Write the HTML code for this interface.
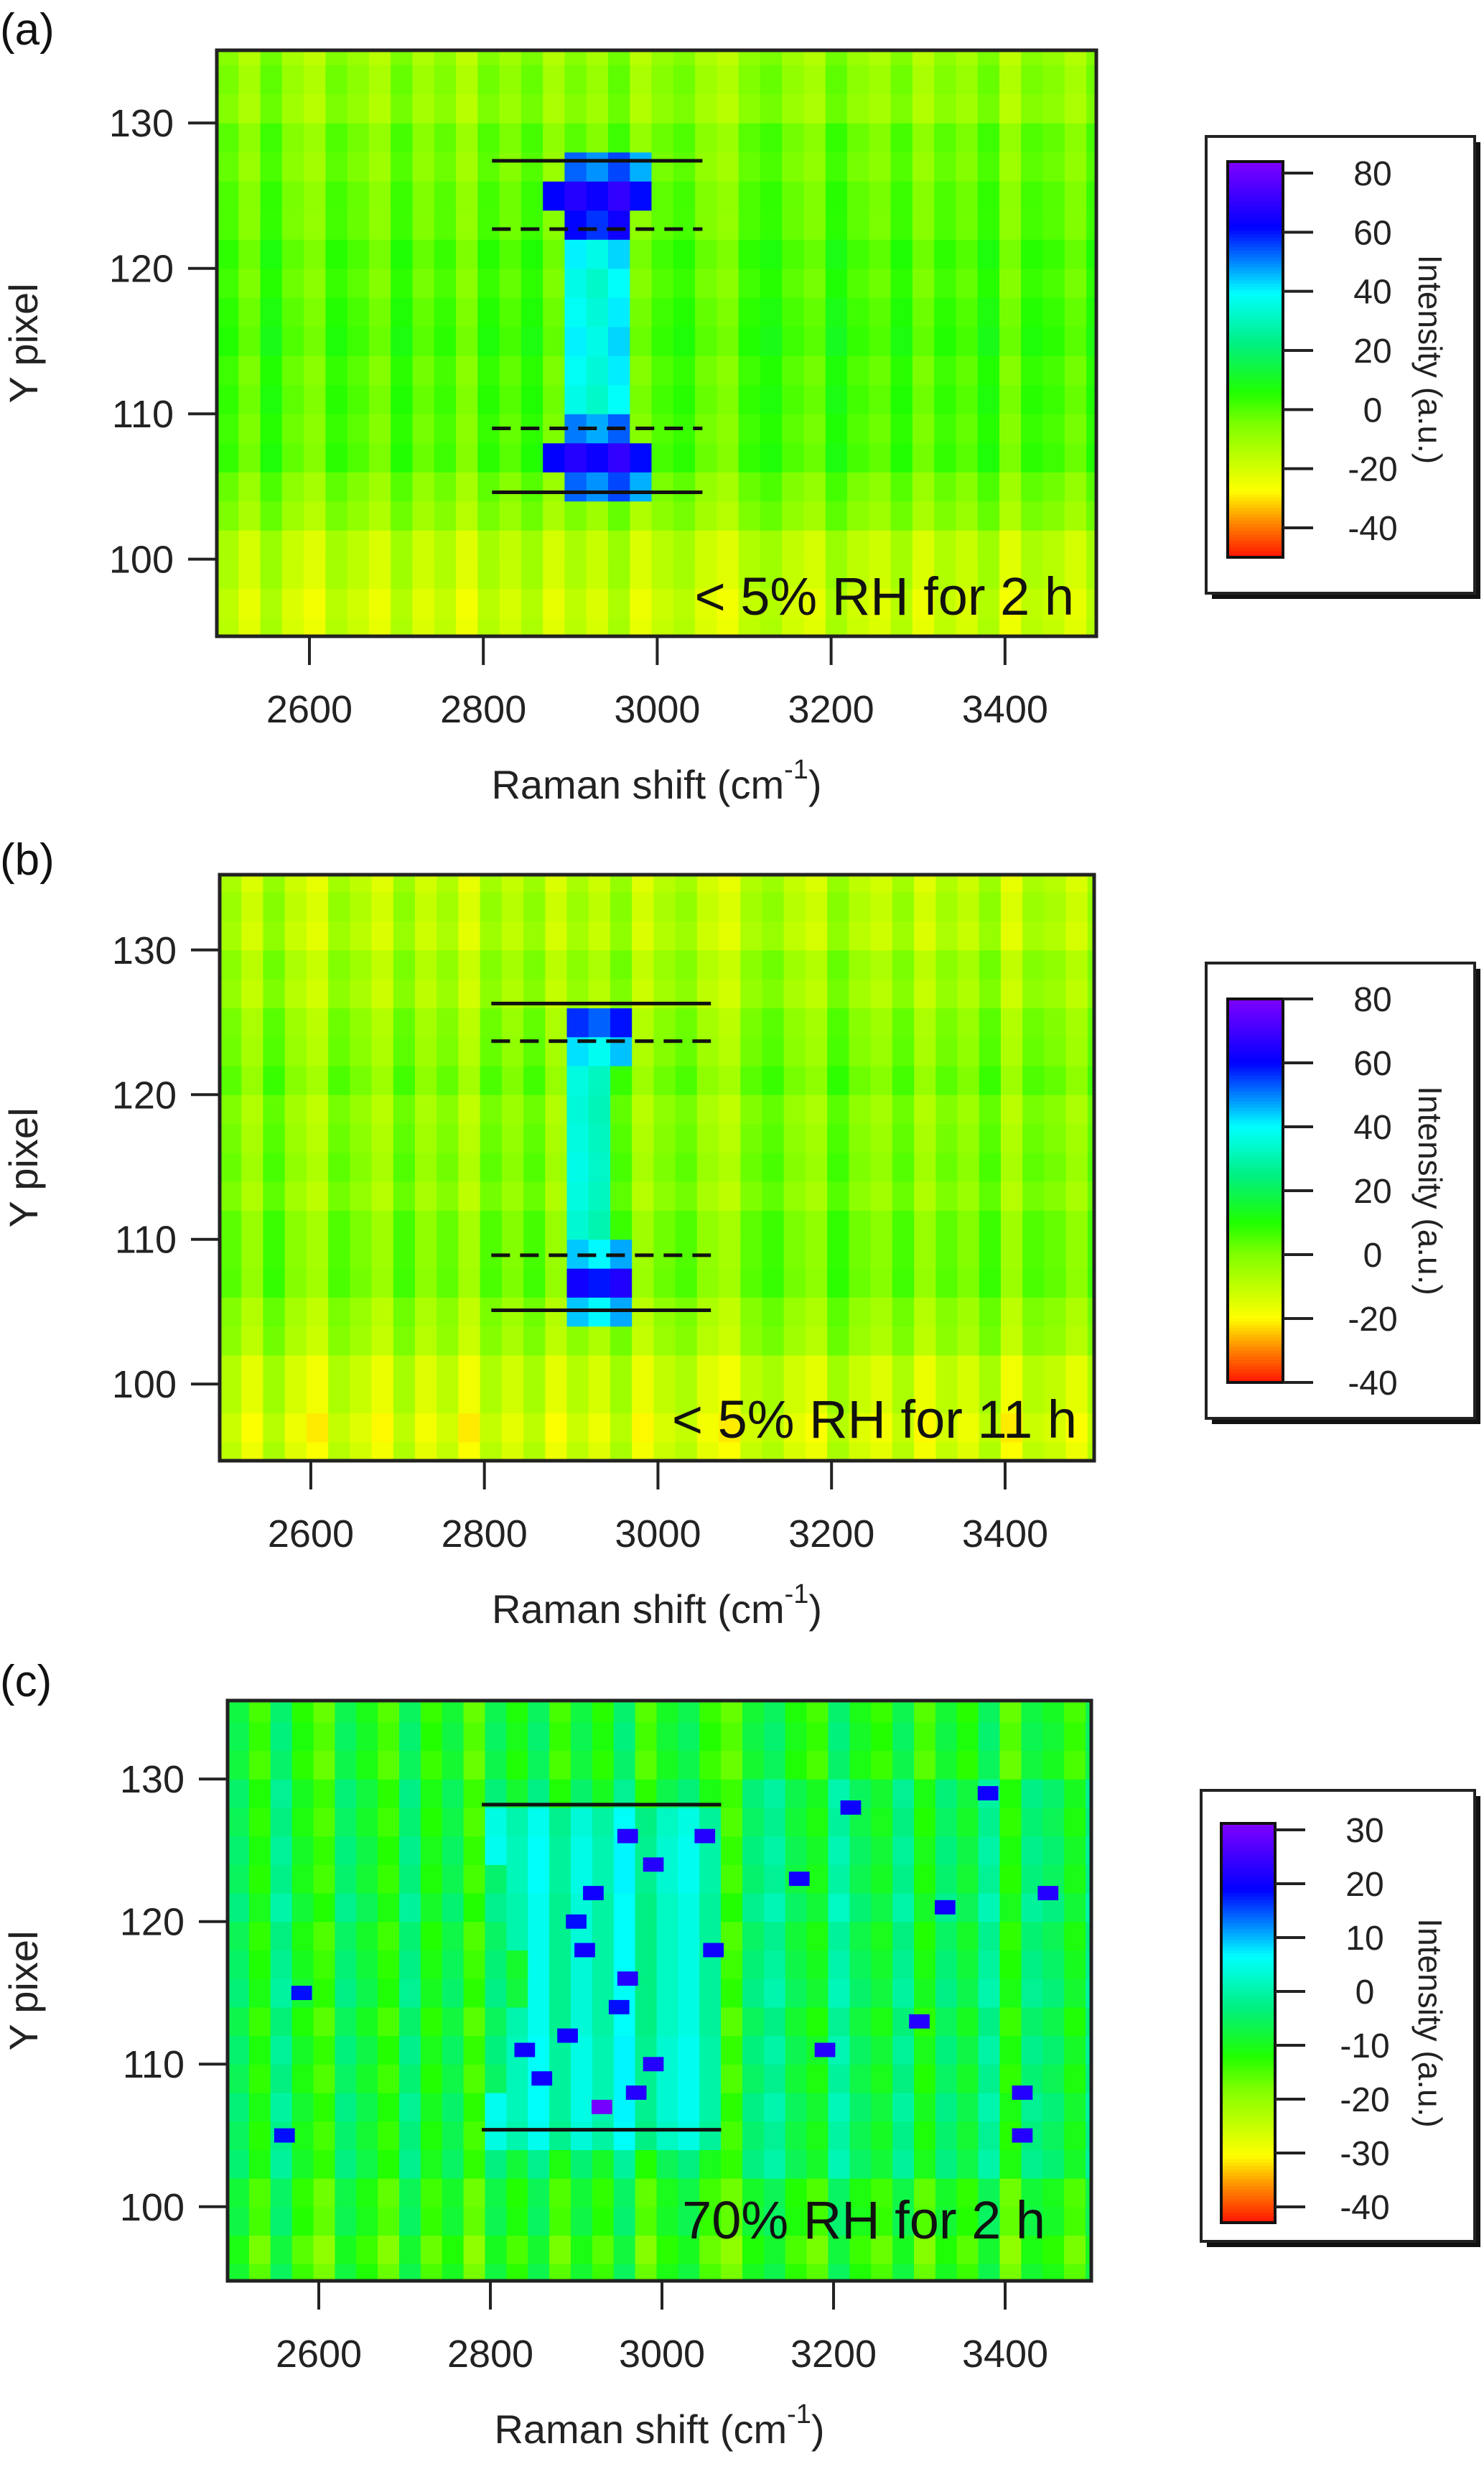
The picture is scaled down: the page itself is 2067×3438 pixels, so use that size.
<!DOCTYPE html>
<html><head><meta charset="utf-8">
<style>
html,body{margin:0;padding:0;background:#fff;}
svg{display:block;font-family:"Liberation Sans",Arial,sans-serif;}
</style></head>
<body>
<svg id="fig" width="2067" height="3438" viewBox="0 0 2067 3438" xmlns="http://www.w3.org/2000/svg"></svg>
<script>
// ---------- shared data ----------
const xTicks = [2600, 2800, 3000, 3200, 3400];
const yTicks = [100, 110, 120, 130];
const yRows = [95,97,99,101,103,105,107,109,111,113,115,117,119,121,123,125,127,129,131,133,135];
const colShift = [3,-4,6,-2,-6,4,0,-5,5,-3,2,-6,4,-1,5,-4,3,-2,6,-5,1,4,-3,-6,2,5,-1,-4,6,0,-3,4,-5,2,-2,5,-6,3,1,-4,4];
const rowShift = [2,-3,1,-2,3,-1,2,-2,1,-3,2,0,-2,3,-1,1,-2,2,-3,1,-1];

// ---------- panel (a) ----------
const bgA = [-15,-13,-12,-10,-6,-1,3,4,4,5,5,5,4,3,2,1,0,-1,-3,-4,-5];
const featA = [null,null,null,null,null,52,66,50,36,38,40,38,36,40,60,66,52,null,null,null,null];
const featLoA = [0,0,0,0,0,2885,2880,2895,2905,2905,2905,2905,2905,2905,2890,2880,2885,0,0,0,0];
const featHiA = [0,0,0,0,0,2985,2990,2975,2960,2960,2960,2960,2960,2960,2980,2990,2985,0,0,0,0];
const cbTicksA = [-40,-20,0,20,40,60,80];
const solidLinesA = [127.4, 104.6];
const dashLinesA = [122.7, 109.0];
const lineSpanA = [2810, 3052];

// ---------- panel (b) ----------
const bgB = [-14,-13,-12,-10,-7,-3,0,2,0,-1,-2,-2,-2,-1,-1,-3,-5,-6,-7,-8,-9];
const featB = [null,null,null,null,null,42,60,42,32,34,35,34,33,34,40,54,null,null,null,null,null];
const featLoB = [0,0,0,0,0,2895,2890,2900,2905,2905,2905,2905,2905,2905,2900,2895,0,0,0,0,0];
const featHiB = [0,0,0,0,0,2970,2975,2965,2955,2955,2955,2955,2955,2955,2960,2970,0,0,0,0,0];
const cbTicksB = [-40,-20,0,20,40,60,80];
const solidLinesB = [126.3, 105.1];
const dashLinesB = [123.7, 108.9];
const lineSpanB = [2808, 3061];

// ---------- panel (c) ----------
const bgC = [-13,-12,-11,-10,-9,-8,-8,-8,-8,-8,-8,-8,-8,-8,-8,-8,-8,-9,-9,-10,-10];
const featC = [null,null,null,null,null,1,2,2,2,1,1,1,1,1,2,2,1,null,null,null,null];
const featLoC = [0,0,0,0,0,2800,2800,2810,2820,2830,2840,2840,2830,2820,2810,2800,2800,0,0,0,0];
const featHiC = [0,0,0,0,0,3080,3080,3080,3070,3070,3070,3070,3070,3080,3080,3080,3080,0,0,0,0];
const dotXC = [2960,2990,2920,3050,2910,2960,2890,2930,2970,2860,2840,2990,3190,3420,3450,3330,3300,3060,3160,3420,2580,2560,3380,3220,2900,2950];
const dotYC = [126,124,122,126,118,116,112,107,108,109,111,110,111,108,122,121,113,118,123,105,115,105,129,128,120,114];
const dotVC = [22,22,20,22,20,22,20,30,22,20,20,22,22,22,22,20,22,20,20,22,18,18,20,20,18,18];
const cbTicksC = [-40,-30,-20,-10,0,10,20,30];
const solidLinesC = [128.2, 105.4];
const dashLinesC = [];
const lineSpanC = [2790, 3069];

// ---------- colormap ----------
const stops = [[0,[255,20,0]],[0.083,[255,130,0]],[0.167,[255,255,0]],[0.333,[128,255,0]],[0.417,[32,255,0]],[0.54,[0,240,130]],[0.667,[0,255,255]],[0.833,[0,0,255]],[1,[128,0,255]]];
function cmap(v, lo, hi){
  let f=(v-lo)/(hi-lo); f=Math.max(0,Math.min(1,f));
  for(let i=1;i<stops.length;i++){
    if(f<=stops[i][0]){
      const a=stops[i-1],b=stops[i],t=(f-a[0])/(b[0]-a[0]);
      const c=a[1].map((q,k)=>Math.round(q+(b[1][k]-q)*t));
      return 'rgb('+c.join(',')+')';
    }
  }
  return 'rgb(128,0,255)';
}

const NS='http://www.w3.org/2000/svg';
const svg=document.getElementById('fig');
function mk(tag, attrs, parent){
  const e=document.createElementNS(NS,tag);
  for(const k in attrs) e.setAttribute(k,attrs[k]);
  (parent||svg).appendChild(e); return e;
}

function panel(P){
  const g=mk('g',{});
  
  
  const sx=v=>P.L+(v-P.xmin)/(P.xmax-P.xmin)*(P.R-P.L);
  const sy=v=>P.B-(v-P.ymin)/(P.ymax-P.ymin)*(P.B-P.T);
  const hm=mk('g',{},g);
  
  
  const step=25;
  const ncol=Math.ceil((P.xmax-P.xmin)/step);
  for(let r=0;r<yRows.length;r++){
    const y0=Math.max(P.ymin,yRows[r]-1), y1=Math.min(P.ymax,yRows[r]+1);
    for(let c=0;c<ncol;c++){
      const x0=P.xmin+c*step, x1=Math.min(P.xmax,x0+step), xc=(x0+x1)/2;
      let v=P.bg[r]+colShift[c%colShift.length]*P.jit+rowShift[r]*P.jit*0.6;
      if(P.feat[r]!==null && xc>=P.lo[r] && xc<=P.hi[r]) v=P.feat[r]+colShift[c%colShift.length]*0.8;
      if(P.rightAdj && xc>3090 && yRows[r]>101 && yRows[r]<131) v+=P.rightAdj;
      const top=(r===yRows.length-1)?P.T:sy(y1);
      const bot=(r===0)?P.B:sy(y0);
      const rc=mk('rect',{x:sx(x0).toFixed(1),y:top.toFixed(1),width:(sx(x1)-sx(x0)+0.6).toFixed(1),height:(bot-top+0.6).toFixed(1),fill:cmap(v,P.cbLo,P.cbHi)},hm);
      
      
    }
  }
  if(P.dotX){
    for(let i=0;i<P.dotX.length;i++){
      const d=mk('rect',{x:sx(P.dotX[i]-12).toFixed(1),y:sy(P.dotY[i]+0.5).toFixed(1),width:(sx(P.dotX[i]+12)-sx(P.dotX[i]-12)).toFixed(1),height:(sy(P.dotY[i]-0.5)-sy(P.dotY[i]+0.5)).toFixed(1),fill:cmap(P.dotV[i],P.cbLo,P.cbHi)},hm);
      
      
    }
  }
  P.solid.forEach(yv=>{
    const l=mk('line',{x1:sx(P.span[0]),x2:sx(P.span[1]),y1:sy(yv),y2:sy(yv),stroke:'#111','stroke-width':5},g);
    
    
  });
  P.dash.forEach(yv=>{
    const l=mk('line',{x1:sx(P.span[0]),x2:sx(P.span[1]),y1:sy(yv),y2:sy(yv),stroke:'#111','stroke-width':5,'stroke-dasharray':'26 14'},g);
    
    
  });
  const fr=mk('rect',{x:P.L,y:P.T,width:P.R-P.L,height:P.B-P.T,fill:'none',stroke:'#222','stroke-width':5},g);
  
  
  const an=mk('text',{x:P.annX,y:P.annY,'text-anchor':'end','font-size':74,fill:'#111'},g);
  an.textContent=P.ann;
  
  
  yTicks.forEach(t=>{
    const y=sy(t);
    const tk=mk('line',{x1:P.L-40,x2:P.L,y1:y,y2:y,stroke:'#222','stroke-width':4},g);
    
    
    const tl=mk('text',{x:P.L-60,y:y+19,'text-anchor':'end','font-size':54,fill:'#222'},g);
    tl.textContent=t;
    
    
  });
  xTicks.forEach(t=>{
    const x=sx(t);
    const tk=mk('line',{x1:x,x2:x,y1:P.B,y2:P.B+40,stroke:'#222','stroke-width':4},g);
    
    
    const tl=mk('text',{x:x,y:P.B+120,'text-anchor':'middle','font-size':54,fill:'#222'},g);
    tl.textContent=t;
    
    
  });
  const yt=mk('text',{x:0,y:0,'text-anchor':'middle','font-size':56,fill:'#222',transform:'translate(52,'+((P.T+P.B)/2)+') rotate(-90)'},g);
  yt.textContent='Y pixel';
  
  
  const xt=mk('text',{x:(P.L+P.R)/2,y:P.B+226,'text-anchor':'middle','font-size':56,fill:'#222'},g);
  
  
  const t1=mk('tspan',{},xt); t1.textContent='Raman shift (cm';
  const t2=mk('tspan',{dy:-28,'font-size':38},xt); t2.textContent='-1';
  const t3=mk('tspan',{dy:28},xt); t3.textContent=')';
  const pl=mk('text',{x:0,y:P.labY,'font-size':62,fill:'#111'},g);
  pl.textContent=P.label;
  
  
  const cb=mk('g',{},g);
  
  
  const sh=mk('rect',{x:P.cbox[0]+8,y:P.cbox[1]+8,width:P.cbox[2]-P.cbox[0],height:P.cbox[3]-P.cbox[1],fill:'#111'},cb);
  
  
  const bx=mk('rect',{x:P.cbox[0],y:P.cbox[1],width:P.cbox[2]-P.cbox[0],height:P.cbox[3]-P.cbox[1],fill:'#fff',stroke:'#222','stroke-width':4},cb);
  
  
  const cy=v=>P.cbTickPx[1]+(v-P.cbTicks[0])/(P.cbTicks[P.cbTicks.length-1]-P.cbTicks[0])*(P.cbTickPx[0]-P.cbTickPx[1]);
  const H=P.bar[3]-P.bar[1], n=120;
  for(let i=0;i<n;i++){
    const yy=P.bar[1]+i*H/n;
    const val=P.cbLo+(P.cbHi-P.cbLo)*(1-(i+0.5)/n);
    const s=mk('rect',{x:P.bar[0],y:yy.toFixed(1),width:P.bar[2]-P.bar[0],height:(H/n+0.8).toFixed(1),fill:cmap(val,P.cbLo,P.cbHi)},cb);
    
    
  }
  const bf=mk('rect',{x:P.bar[0],y:P.bar[1],width:P.bar[2]-P.bar[0],height:H,fill:'none',stroke:'#111','stroke-width':4},cb);
  
  
  P.cbTicks.forEach(t=>{
    const y=cy(t);
    const tk=mk('line',{x1:P.bar[2],x2:P.bar[2]+42,y1:y,y2:y,stroke:'#222','stroke-width':4},cb);
    
    
    const tl=mk('text',{x:P.bar[2]+125,y:y+17,'text-anchor':'middle','font-size':48,fill:'#222'},cb);
    tl.textContent=t;
    
    
  });
  const il=mk('text',{x:0,y:0,'text-anchor':'middle','font-size':46,fill:'#222',transform:'translate('+(P.cbox[2]-78)+','+((P.bar[1]+P.bar[3])/2)+') rotate(90)'},cb);
  il.textContent='Intensity (a.u.)';
  
  
}

panel({name:'panel-a',label:'(a)',labY:62,L:302,R:1527,T:70,B:886,xmin:2493.5,xmax:3505,ymin:94.7,ymax:135,
  bg:bgA,feat:featA,lo:featLoA,hi:featHiA,jit:1.0,rightAdj:1,solid:solidLinesA,dash:dashLinesA,span:lineSpanA,
  ann:'< 5% RH for 2 h',annX:1496,annY:856,cbox:[1680,190,2054,826],bar:[1710,225,1787,776],
  cbTicks:cbTicksA,cbTickPx:[241,735],cbLo:-44,cbHi:84});
panel({name:'panel-b',label:'(b)',labY:1218,L:306,R:1524,T:1218,B:2034,xmin:2495,xmax:3502.6,ymin:94.7,ymax:135.2,
  bg:bgB,feat:featB,lo:featLoB,hi:featHiB,jit:1.1,rightAdj:1,solid:solidLinesB,dash:dashLinesB,span:lineSpanB,
  ann:'< 5% RH for 11 h',annX:1500,annY:2002,cbox:[1680,1341,2054,1975],bar:[1710,1391,1787,1925],
  cbTicks:cbTicksB,cbTickPx:[1391,1925],cbLo:-40,cbHi:80});
panel({name:'panel-c',label:'(c)',labY:2362,L:317,R:1520,T:2368,B:3176,xmin:2493.7,xmax:3500.4,ymin:94.8,ymax:135.5,
  bg:bgC,feat:featC,lo:featLoC,hi:featHiC,jit:1.0,rightAdj:2,solid:solidLinesC,dash:dashLinesC,span:lineSpanC,
  dotX:dotXC,dotY:dotYC,dotV:dotVC,
  ann:'70% RH for 2 h',annX:1456,annY:3117,cbox:[1673,2493,2054,3121],bar:[1701,2539,1776,3095],
  cbTicks:cbTicksC,cbTickPx:[2548,3073],cbLo:-43,cbHi:31});
</script>
</body></html>
